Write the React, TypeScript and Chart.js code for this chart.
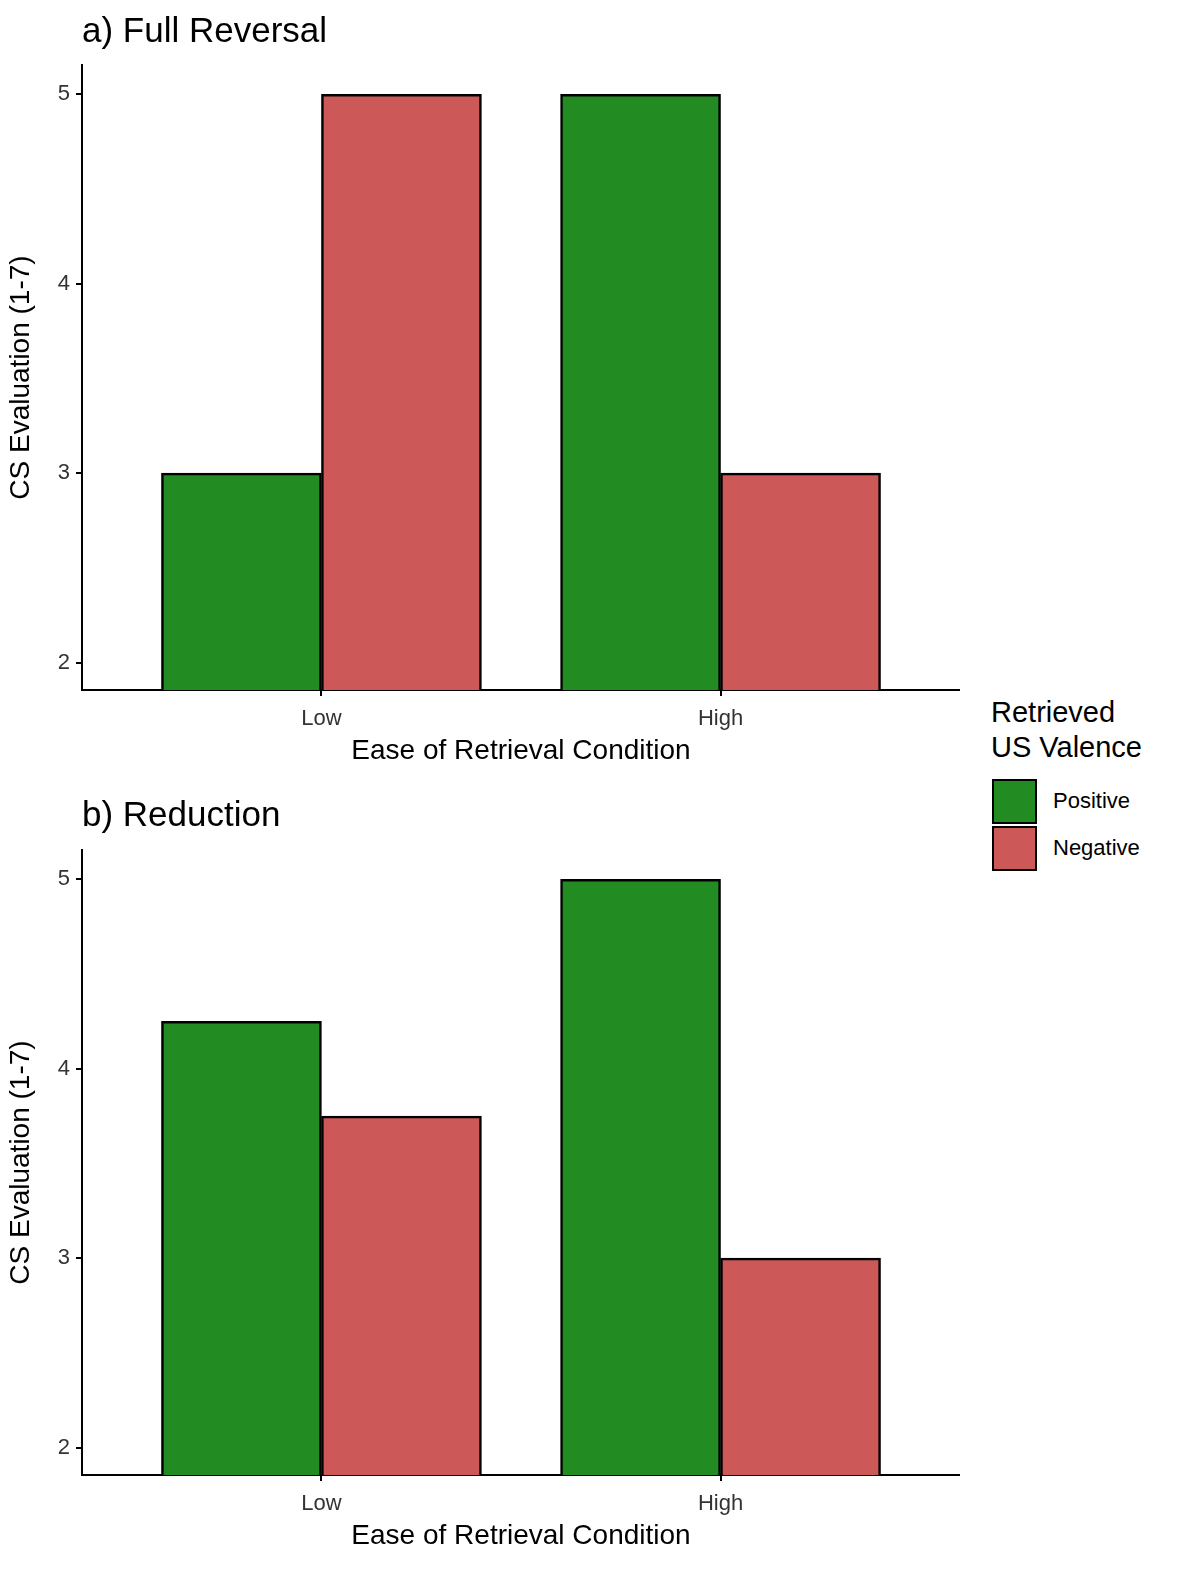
import React, { useEffect, useRef } from "react";
import { Chart, registerables } from "chart.js";
Chart.register(...registerables);

const conditions = ["Low", "High"];
const seriesNames = ["Positive", "Negative"];
const seriesColors = ["#228B22", "#CD5858"];
const panelA_positive = [3, 5];
const panelA_negative = [5, 3];
const panelB_positive = [4.25, 5];
const panelB_negative = [3.75, 3];
const yTicks = [2, 3, 4, 5];

const FONT = "'Liberation Sans', Arial, sans-serif";

function Panel({ pos, neg, top, height, padTop, xAxisH }: any) {
  const ref = useRef<HTMLCanvasElement>(null);
  useEffect(() => {
    const mk = (vals: number[]) => vals.map((v, i) => ({ x: i + 1, y: v }));
    const chart = new Chart(ref.current!, {
      type: "bar",
      data: {
        datasets: [
          { label: seriesNames[0], data: mk(pos), backgroundColor: seriesColors[0], borderColor: "#000", borderWidth: 2.5 },
          { label: seriesNames[1], data: mk(neg), backgroundColor: seriesColors[1], borderColor: "#000", borderWidth: 2.5 },
        ] as any,
      },
      options: {
        animation: false,
        responsive: false,
        maintainAspectRatio: false,
        layout: { padding: { top: padTop, right: 0, left: 0, bottom: 0 } },
        plugins: { legend: { display: false }, tooltip: { enabled: false }, title: { display: false } },
        datasets: { bar: { barThickness: 160, borderSkipped: "bottom" } } as any,
        scales: {
          x: {
            type: "linear",
            offset: false,
            min: 0.4,
            max: 2.6,
            afterBuildTicks: (s: any) => { s.ticks = [{ value: 1 }, { value: 2 }]; },
            afterFit: (s: any) => { s.height = xAxisH; },
            ticks: { callback: (v: any) => conditions[Math.round(Number(v)) - 1], color: "#333", font: { family: FONT, size: 22 }, padding: 10 },
            grid: { offset: false, drawOnChartArea: false, tickLength: 6, color: "#000", lineWidth: 2 },
            border: { color: "#000", width: 2 },
            title: { display: true, text: "Ease of Retrieval Condition", color: "#000", font: { family: FONT, size: 28 }, padding: { top: 0 } },
          },
          y: {
            min: 1.855,
            max: 5.155,
            afterBuildTicks: (s: any) => { s.ticks = yTicks.map((v) => ({ value: v })); },
            afterFit: (s: any) => { s.width = 82; },
            ticks: { color: "#333", font: { family: FONT, size: 22 }, padding: 6 },
            grid: { drawOnChartArea: false, tickLength: 6, color: "#000", lineWidth: 2 },
            border: { color: "#000", width: 2 },
            title: { display: true, text: "CS Evaluation (1-7)", color: "#000", font: { family: FONT, size: 28 }, padding: { bottom: 0 } },
          },
        },
      } as any,
    });
    return () => chart.destroy();
  }, []);
  return (
    <canvas ref={ref} width={960} height={height} style={{ position: "absolute", left: 0, top, width: 960, height }} />
  );
}

export default function App() {
  const txt: any = { position: "absolute", fontFamily: FONT, color: "#000", whiteSpace: "nowrap" };
  return (
    <div style={{ position: "absolute", left: 0, top: 0, width: 1181, height: 1575, background: "#fff" }}>
      <Panel pos={panelA_positive} neg={panelA_negative} top={0} height={772} padTop={65} xAxisH={82} />
      <Panel pos={panelB_positive} neg={panelB_negative} top={780} height={777} padTop={70} xAxisH={82} />
      <div style={{ ...txt, left: 82, top: 10, fontSize: 35 }}>a) Full Reversal</div>
      <div style={{ ...txt, left: 82, top: 794, fontSize: 35 }}>b) Reduction</div>
      <div style={{ ...txt, left: 991, top: 695, fontSize: 29, lineHeight: "35px" }}>Retrieved<br />US Valence</div>
      {seriesNames.map((n, i) => (
        <React.Fragment key={n}>
          <div style={{ position: "absolute", left: 992, top: 779 + i * 47, width: 41, height: 41, background: seriesColors[i], border: "2px solid #000" }} />
          <div style={{ ...txt, left: 1053, top: 788 + i * 47, fontSize: 22 }}>{n}</div>
        </React.Fragment>
      ))}
    </div>
  );
}
